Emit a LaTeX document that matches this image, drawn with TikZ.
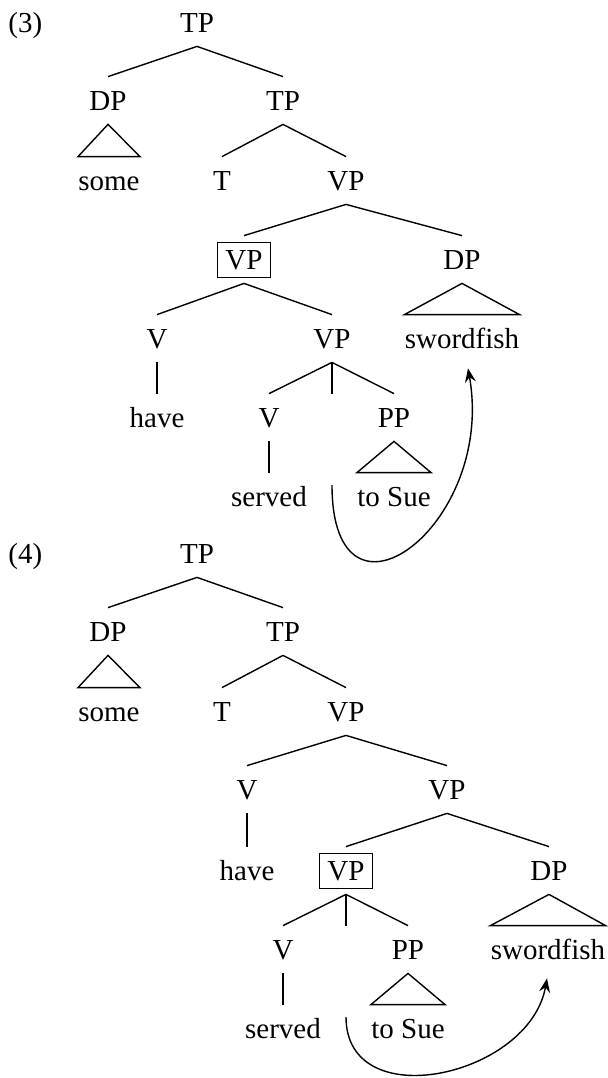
\documentclass[tikz,border=0pt]{standalone}
\usepackage{fontspec}
\setmainfont{Liberation Serif}
\usetikzlibrary{arrows.meta}
\tikzset{
	cat/.style={anchor=base, inner xsep=0pt, inner ysep=4.5pt, text height=12pt, text depth=2.5pt},
	branch/.style={line width=0.7pt},
	move/.style={line width=0.7pt, -{Stealth[length=7pt, width=5.5pt, inset=2.5pt]}}
}
\setlength{\fboxsep}{3.6pt}
\setlength{\fboxrule}{0.45pt}
\begin{document}
\begin{tikzpicture}[x=0.5pt, y=-0.5pt, font=\fontsize{14.5}{17}\selectfont]
				  \useasboundingbox (0,0) rectangle (608,1078);
				  \node[anchor=base west, inner sep=0pt] (ex3) at (8,32) {(3)};
				  \node[cat] (tp3a) at (197,32) {TP};
				  \node[cat] (dp3a) at (108,110) {DP};
				  \node[cat] (tp3b) at (283,110) {TP};
				  \node[cat] (some3) at (109,190) {some};
				  \node[cat] (t3) at (222,190) {T};
				  \node[cat] (vp3a) at (346,190) {VP};
				  \node[cat] (vp3b) at (244,269) {\fbox{VP}};
				  \node[cat] (dp3b) at (462,269) {DP};
				  \node[cat] (v3a) at (157,348) {V};
				  \node[cat] (vp3c) at (332,348) {VP};
				  \node[cat] (sf3) at (462,348) {swordfish};
				  \node[cat] (have3) at (157,427) {have};
				  \node[cat] (v3b) at (269,427) {V};
				  \node[cat] (tr3) at (332,427) {};
				  \node[cat] (pp3) at (394,427) {PP};
				  \node[cat] (served3) at (269,506) {served};
				  \node[cat] (sue3) at (394,506) {to Sue};
				  \coordinate (gap3) at (332,485);
				  \draw[branch] (tp3a.south) -- (dp3a.north);
				  \draw[branch] (tp3a.south) -- (tp3b.north);
				  \draw[branch] (dp3a.south) -- (some3.north west) -- (some3.north east) -- cycle;
				  \draw[branch] (tp3b.south) -- (t3.north);
				  \draw[branch] (tp3b.south) -- (vp3a.north);
				  \draw[branch] (vp3a.south) -- (vp3b.north);
				  \draw[branch] (vp3a.south) -- (dp3b.north);
				  \draw[branch] (dp3b.south) -- (sf3.north west) -- (sf3.north east) -- cycle;
				  \draw[branch] (vp3b.south) -- (v3a.north);
				  \draw[branch] (vp3b.south) -- (vp3c.north);
				  \draw[branch] (v3a.south) -- (have3.north);
				  \draw[branch] (vp3c.south) -- (v3b.north);
				  \draw[branch] (vp3c.south) -- (tr3.north);
				  \draw[branch] (vp3c.south) -- (pp3.north);
				  \draw[branch] (v3b.south) -- (served3.north);
				  \draw[branch] (pp3.south) -- (sue3.north west) -- (sue3.north east) -- cycle;
				  \draw[move, looseness=2.3] (gap3) to[out=-90, in=-80] ([xshift=3pt, yshift=-3pt]sf3.south);
				  \node[anchor=base west, inner sep=0pt] (ex4) at (8,563) {(4)};
				  \node[cat] (tp4a) at (197,563) {TP};
				  \node[cat] (dp4a) at (108,641) {DP};
				  \node[cat] (tp4b) at (283,641) {TP};
				  \node[cat] (some4) at (109,721) {some};
				  \node[cat] (t4) at (222,721) {T};
				  \node[cat] (vp4a) at (346,721) {VP};
				  \node[cat] (v4a) at (247,799) {V};
				  \node[cat] (vp4b) at (447,799) {VP};
				  \node[cat] (have4) at (247,880) {have};
				  \node[cat] (vp4c) at (346,880) {\fbox{VP}};
				  \node[cat] (dp4b) at (549,880) {DP};
				  \node[cat] (v4b) at (283,959) {V};
				  \node[cat] (tr4) at (346,959) {};
				  \node[cat] (pp4) at (408,959) {PP};
				  \node[cat] (sf4) at (548,959) {swordfish};
				  \node[cat] (served4) at (283,1038) {served};
				  \node[cat] (sue4) at (408,1038) {to Sue};
				  \coordinate (gap4) at (346,1017);
				  \draw[branch] (tp4a.south) -- (dp4a.north);
				  \draw[branch] (tp4a.south) -- (tp4b.north);
				  \draw[branch] (dp4a.south) -- (some4.north west) -- (some4.north east) -- cycle;
				  \draw[branch] (tp4b.south) -- (t4.north);
				  \draw[branch] (tp4b.south) -- (vp4a.north);
				  \draw[branch] (vp4a.south) -- (v4a.north);
				  \draw[branch] (vp4a.south) -- (vp4b.north);
				  \draw[branch] (v4a.south) -- (have4.north);
				  \draw[branch] (vp4b.south) -- (vp4c.north);
				  \draw[branch] (vp4b.south) -- (dp4b.north);
				  \draw[branch] (dp4b.south) -- (sf4.north west) -- (sf4.north east) -- cycle;
				  \draw[branch] (vp4c.south) -- (v4b.north);
				  \draw[branch] (vp4c.south) -- (tr4.north);
				  \draw[branch] (vp4c.south) -- (pp4.north);
				  \draw[branch] (v4b.south) -- (served4.north);
				  \draw[branch] (pp4.south) -- (sue4.north west) -- (sue4.north east) -- cycle;
				  \draw[move, looseness=1.25] (gap4) to[out=-90, in=-100] ([xshift=-0.5pt, yshift=-2.5pt]sf4.south);
				\end{tikzpicture}
\end{document}
